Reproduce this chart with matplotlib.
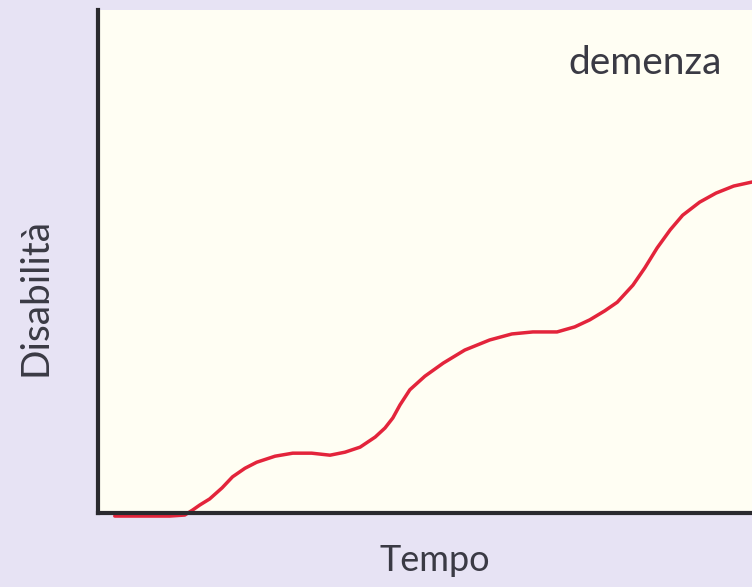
import numpy as np
import matplotlib.pyplot as plt

# disability over time (arbitrary units 0-100)
tempo = [2.6, 6.4, 11.0, 13.3, 14.5, 15.6, 17.1, 19.0, 20.6, 22.5, 24.3, 27.1,
         29.8, 32.7, 35.5, 37.8, 40.1, 42.4, 43.9, 45.1, 46.2, 47.7, 50.0, 52.8,
         56.1, 59.9, 63.3, 66.5, 70.2, 72.9, 75.2, 77.5, 79.4, 81.8, 83.6, 85.5,
         87.5, 89.4, 92.0, 94.5, 97.2, 100.0]
disabilita = [-0.6, -0.6, -0.6, -0.4, 0.6, 1.6, 2.8, 5.0, 7.2, 8.9, 10.1, 11.3,
              11.9, 11.9, 11.5, 12.1, 13.1, 15.1, 16.9, 18.9, 21.5, 24.5, 27.2, 29.8,
              32.4, 34.4, 35.6, 36.0, 36.0, 37.0, 38.4, 40.2, 41.9, 45.3, 48.7, 52.7,
              56.3, 59.2, 61.8, 63.6, 65.0, 65.8]

font = ['Lato', 'DejaVu Sans']
txt_col = '#3a3a44'

fig = plt.figure(figsize=(7.52, 5.87), dpi=100, facecolor='#e7e3f4')
ax = fig.add_axes([0.130, 0.126, 0.870, 0.857], facecolor='#fffef3')

ax.plot(tempo, disabilita, color='#e3243b', lw=2.5, clip_on=False, zorder=3,
        solid_joinstyle='round', solid_capstyle='round')

ax.set_xlim(0, 100)
ax.set_ylim(0, 100)
ax.set_xticks([])
ax.set_yticks([])
for s in ['top', 'right']:
    ax.spines[s].set_visible(False)
for s in ['left', 'bottom']:
    ax.spines[s].set_linewidth(3)
    ax.spines[s].set_color('#2a2a2e')
    ax.spines[s].set_zorder(4)

ax.text(83.6, 87.2, 'demenza', ha='center', va='baseline', fontsize=28,
        family=font, color=txt_col)
ax.set_xlabel('Tempo', fontsize=26, family=font, color=txt_col)
ax.xaxis.set_label_coords(0.515, -0.062)
ax.set_ylabel('Disabilità', fontsize=28, family=font, color=txt_col)
ax.yaxis.set_label_coords(-0.068, 0.43)

plt.savefig('out.png', dpi=100, facecolor=fig.get_facecolor())
